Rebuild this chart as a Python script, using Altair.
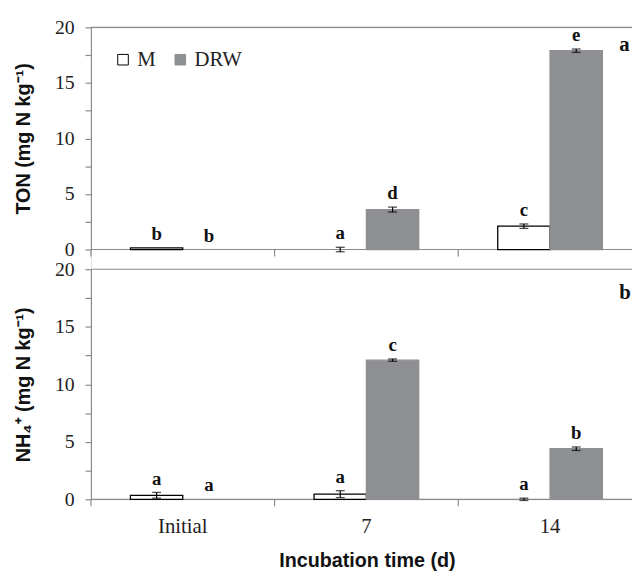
import altair as alt
import pandas as pd

# ---- data ----
categories = ["Initial", "7", "14"]
treatments = ["M", "DRW"]

ton_M = [0.15, 0.0, 2.1]
ton_M_err = [0.0, 0.2, 0.2]
ton_DRW = [0.0, 3.6, 17.9]
ton_DRW_err = [0.0, 0.22, 0.15]
ton_M_letters = ["b", "a", "c"]
ton_DRW_letters = ["b", "d", "e"]

nh4_M = [0.35, 0.45, 0.0]
nh4_M_err = [0.25, 0.3, 0.1]
nh4_DRW = [0.0, 12.1, 4.4]
nh4_DRW_err = [0.0, 0.1, 0.15]
nh4_M_letters = ["a", "a", "a"]
nh4_DRW_letters = ["a", "c", "b"]

panel_labels = ["a", "b"]
y_titles = ["TON (mg N kg\u207b\u00b9)", "NH\u2084\u207a (mg N kg\u207b\u00b9)"]
x_title = ["Incubation time (d)"]
y_ticks = [0, 2.5, 5, 7.5, 10, 12.5, 15, 17.5, 20]

GRAY = "#8e8f93"
AXIS = "#8a8a8a"
SERIF = "Liberation Serif"
SANS = "Liberation Sans"

W = 548          # plot width (px)
TOP_H = 225      # top panel height
BOT_TOP = 245    # y of the lower panel's top edge
BOT_ZERO = 478   # y of the lower panel's zero line


def make_df(m, m_err, d, d_err, m_let, d_let):
    rows = []
    for i, c in enumerate(categories):
        rows.append(dict(cat=c, trt="M", val=m[i], err=m_err[i], letter=m_let[i]))
        rows.append(dict(cat=c, trt="DRW", val=d[i], err=d_err[i], letter=d_let[i]))
    df = pd.DataFrame(rows)
    df["lo"] = df["val"] - df["err"]
    df["hi"] = df["val"] + df["err"]
    return df


xscale = alt.Scale(range=[0, 558], paddingInner=0, paddingOuter=0)
x = alt.X("cat:N", sort=categories, scale=xscale, axis=None)
xo = alt.XOffset("trt:N", sort=treatments,
                 scale=alt.Scale(paddingInner=0, paddingOuter=0.755))
fill_scale = alt.Scale(domain=treatments, range=["white", GRAY])
stroke_scale = alt.Scale(domain=treatments, range=["black", GRAY])
legend = alt.Legend(orient="none", legendX=22, legendY=22, direction="horizontal",
                    title=None, symbolType="square", symbolSize=115,
                    symbolStrokeWidth=1, labelFont=SERIF, labelFontSize=21,
                    labelColor="#222", labelOffset=4, columnPadding=14)
cat_df = pd.DataFrame({"cat": categories})


def panel(df, ytitle, yrange, plabel, plabel_y):
    zero_y, top_y = yrange
    yaxis = alt.Axis(values=y_ticks, orient="left",
                     labelExpr="datum.value % 5 == 0 ? datum.label : ''",
                     grid=False, domainColor=AXIS, tickColor=AXIS, tickSize=6,
                     domainWidth=1.2, tickWidth=1.2,
                     labelFont=SERIF, labelFontSize=20, labelColor="#222",
                     labelPadding=11, titleFont=SANS, titleFontSize=20,
                     titleFontWeight="bold", titleColor="#111", titlePadding=21)
    ysc = alt.Scale(domain=[0, 20], nice=False, range=[zero_y, top_y])
    y = alt.Y("val:Q", scale=ysc, axis=yaxis, title=ytitle)
    ylo = alt.Y("lo:Q", scale=ysc, axis=yaxis, title=ytitle)
    yhi = alt.Y("hi:Q", scale=ysc, axis=yaxis, title=ytitle)

    fill = alt.Fill("trt:N", sort=treatments, scale=fill_scale, legend=legend)
    stroke = alt.Stroke("trt:N", sort=treatments, scale=stroke_scale, legend=legend)

    base = alt.Chart(df)
    bars = base.mark_bar(strokeWidth=1.3).encode(
        x=x, xOffset=xo, y=y, fill=fill, stroke=stroke
    ).transform_filter("datum.val > 0")
    ebar = base.mark_rule(color="black", strokeWidth=1.2).encode(
        x=x, xOffset=xo, y=ylo, y2="hi:Q"
    ).transform_filter("datum.err > 0")
    caps_lo = base.mark_tick(color="black", thickness=1.3, size=9).encode(
        x=x, xOffset=xo, y=ylo
    ).transform_filter("datum.err > 0")
    caps_hi = base.mark_tick(color="black", thickness=1.3, size=9).encode(
        x=x, xOffset=xo, y=yhi
    ).transform_filter("datum.err > 0")
    letters = base.mark_text(baseline="bottom", dy=-4, font=SERIF, fontWeight="bold",
                             fontSize=19, color="#111").encode(
        x=x, xOffset=xo, y=yhi, text="letter:N"
    )
    xticks = alt.Chart(cat_df).mark_rule(color=AXIS, strokeWidth=1.2).encode(
        x=alt.X("cat:N", sort=categories, scale=xscale, axis=None, bandPosition=0),
        y=alt.value(zero_y), y2=alt.value(zero_y + 7)
    )
    one = pd.DataFrame({"label": [plabel]})
    baseline = alt.Chart(one).mark_rule(color=AXIS, strokeWidth=1.2).encode(
        x=alt.value(0), x2=alt.value(W), y=alt.value(zero_y)
    )
    topline = alt.Chart(one).mark_rule(color=AXIS, strokeWidth=1.2).encode(
        x=alt.value(0), x2=alt.value(W), y=alt.value(top_y)
    )
    plab = alt.Chart(one).mark_text(align="left", baseline="alphabetic", font=SERIF,
                                    fontWeight="bold", fontSize=21, color="#111").encode(
        x=alt.value(535), y=alt.value(plabel_y), text="label:N"
    )
    return alt.layer(topline, baseline, xticks, bars, ebar, caps_lo, caps_hi,
                     letters, plab)


ton_df = make_df(ton_M, ton_M_err, ton_DRW, ton_DRW_err, ton_M_letters, ton_DRW_letters)
nh4_df = make_df(nh4_M, nh4_M_err, nh4_DRW, nh4_DRW_err, nh4_M_letters, nh4_DRW_letters)

top = panel(ton_df, y_titles[0], (TOP_H, 0), panel_labels[0], 24)
bot = panel(nh4_df, y_titles[1], (BOT_ZERO, BOT_TOP), panel_labels[1], BOT_TOP + 30)

xlabels = alt.Chart(cat_df).mark_text(baseline="alphabetic", font=SERIF,
                                      fontSize=21, color="#222").encode(
    x=x, y=alt.value(BOT_ZERO + 34), text="cat:N"
)
xt = alt.Chart(pd.DataFrame({"t": x_title})).mark_text(
    baseline="alphabetic", font=SANS, fontWeight="bold", fontSize=20,
    color="#111").encode(x=alt.value(280), y=alt.value(BOT_ZERO + 69), text="t:N")

chart = alt.layer(top, bot, xlabels, xt).resolve_scale(
    y="independent"
).resolve_axis(y="independent").properties(
    width=W, height=BOT_ZERO,
    autosize=alt.AutoSizeParams(type="none"),
    padding={"left": 84, "top": 16, "right": 0, "bottom": 70}
).configure_view(strokeWidth=0).configure(background="white")

chart.save("out.html", embed_options={"renderer": "svg", "actions": False})
